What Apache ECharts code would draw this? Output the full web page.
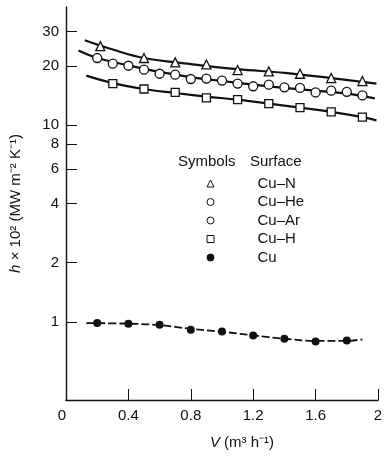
<!DOCTYPE html>
<html><head><meta charset="utf-8">
<script src="https://cdn.jsdelivr.net/npm/echarts@6/dist/echarts.min.js"></script>
<style>html,body{margin:0;padding:0;background:#fff}#c{width:385px;height:458px}</style>
</head><body><div id="c"></div>
<script>
// ---- data ----
const seriesNames = ['Cu–N', 'Cu–He', 'Cu–Ar', 'Cu–H', 'Cu'];
const xCuN  = [0.22, 0.5, 0.7, 0.9, 1.1, 1.3, 1.5, 1.7, 1.9];
const hCuN  = [25.3, 22.0, 20.9, 20.4, 19.1, 18.8, 18.3, 17.4, 16.8];
const xCuHe = [0.2, 0.4, 0.6, 0.8, 1.0, 1.2, 1.4, 1.6, 1.8];
const hCuHe = [22.0, 20.1, 18.3, 17.2, 16.9, 15.8, 15.6, 14.7, 14.8];
const xCuAr = [0.3, 0.5, 0.7, 0.9, 1.1, 1.3, 1.5, 1.7, 1.9];
const hCuAr = [20.6, 19.2, 18.1, 17.3, 16.3, 16.1, 15.5, 15.0, 14.2];
const xCuH  = [0.3, 0.5, 0.7, 0.9, 1.1, 1.3, 1.5, 1.7, 1.9];
const hCuH  = [16.3, 15.3, 14.7, 13.8, 13.5, 12.9, 12.3, 11.7, 11.0];
const xCu   = [0.2, 0.4, 0.6, 0.8, 1.0, 1.2, 1.4, 1.6, 1.8];
const hCu   = [0.985, 0.977, 0.965, 0.911, 0.893, 0.851, 0.819, 0.794, 0.803];
// fitted curves drawn through the points
const fitXN  = [0.12, 0.3, 0.5, 0.8, 1.1, 1.4, 1.7, 1.99];
const fitHN  = [27.1, 24.3, 22.0, 20.5, 19.3, 18.5, 17.4, 16.3];
const fitXHA = [0.08, 0.2, 0.4, 0.6, 0.8, 1.0, 1.2, 1.4, 1.6, 1.8, 1.98];
const fitHHA = [24.0, 22.0, 20.2, 18.7, 17.6, 16.8, 16.1, 15.5, 15.0, 14.5, 13.7];
const fitXH  = [0.13, 0.3, 0.5, 0.7, 0.9, 1.1, 1.3, 1.5, 1.7, 1.9, 1.99];
const fitHH  = [17.9, 16.4, 15.3, 14.6, 14.0, 13.5, 12.9, 12.3, 11.7, 11.0, 10.6];
const fitXCu = [0.13, 0.4, 0.6, 0.8, 1.0, 1.2, 1.4, 1.6, 1.8, 1.9];
const fitHCu = [0.985, 0.978, 0.962, 0.92, 0.89, 0.853, 0.82, 0.80, 0.80, 0.815];
// axes
const xTicks = [0, 0.4, 0.8, 1.2, 1.6, 2];
const yTicks = [1, 2, 4, 6, 8, 10, 20, 30];
const yMin = 0.4, yMax = 40;

const FONT = 'Liberation Sans, Arial, sans-serif';
const TXT = '#111';
const lg = v => Math.log10(v);
const pts = (xs, hs) => xs.map((x, i) => [x, lg(hs[i])]);

function markers(name, xs, hs, symbol, size, filled) {
  return {
    name, type: 'scatter', data: pts(xs, hs), symbol, symbolSize: size, z: 5,
    itemStyle: { color: filled ? '#111' : '#fff', borderColor: '#111', borderWidth: filled ? 0 : 1.3, opacity: 1 }
  };
}
function curve(xs, hs, dashed) {
  return {
    type: 'line', data: pts(xs, hs), showSymbol: false, smooth: 0.4, z: 2, silent: true,
    lineStyle: { color: '#111', width: dashed ? 1.8 : 2.2, type: dashed ? [8, 3] : 'solid' }
  };
}

const chart = echarts.init(document.getElementById('c'), null, { renderer: 'canvas' });
chart.setOption({
  animation: false,
  backgroundColor: '#fff',
  grid: { left: 66, right: 7, top: 7, bottom: 58, outerBoundsMode: 'none' },
  xAxis: {
    type: 'value', min: 0, max: 2, interval: 0.4,
    splitLine: { show: false },
    axisLine: { onZero: false, lineStyle: { color: '#111', width: 1.4 } },
    axisTick: { inside: true, length: 11, lineStyle: { color: '#111', width: 1 } },
    axisLabel: { color: TXT, fontSize: 15, fontFamily: FONT, margin: 8, alignMinLabel: 'right' },
    name: '{i|V} (m³ h⁻¹)', nameLocation: 'middle', nameGap: 35,
    nameTextStyle: { color: TXT, fontSize: 15, fontFamily: FONT, padding: [0, 0, 0, 40],
      rich: { i: { fontStyle: 'italic', fontSize: 15, fontFamily: FONT, color: TXT } } }
  },
  yAxis: {
    type: 'value', min: lg(yMin), max: lg(yMax),
    splitLine: { show: false },
    axisLine: { onZero: false, lineStyle: { color: '#111', width: 1.4 } },
    axisTick: { inside: true, length: 11, customValues: yTicks.map(lg), lineStyle: { color: '#111', width: 1 } },
    axisLabel: { color: TXT, fontSize: 15, fontFamily: FONT, margin: 7,
      customValues: yTicks.map(lg), formatter: v => String(Math.round(Math.pow(10, v))) },
    name: '{i|h} × 10² (MW m⁻² K⁻¹)', nameLocation: 'middle', nameGap: 43, nameRotate: 90,
    nameTextStyle: { color: TXT, fontSize: 15, fontFamily: FONT,
      rich: { i: { fontStyle: 'italic', fontSize: 15, fontFamily: FONT, color: TXT } } }
  },
  legend: {
    data: seriesNames, orient: 'vertical', left: 201.5, top: 171,
    itemWidth: 7, itemHeight: 7, itemGap: 3.5, selectedMode: false,
    textStyle: { color: TXT, fontSize: 15, fontFamily: FONT, padding: [0, 0, 0, 38.5] },
    itemStyle: { borderWidth: 1 }
  },
  graphic: [
    { type: 'text', left: 178, top: 154, style: { text: 'Symbols', fill: TXT, font: '15px ' + FONT } },
    { type: 'text', left: 250, top: 154, style: { text: 'Surface', fill: TXT, font: '15px ' + FONT } }
  ],
  series: [
    curve(fitXN, fitHN, false),
    curve(fitXHA, fitHHA, false),
    curve(fitXH, fitHH, false),
    curve(fitXCu, fitHCu, true),
    markers(seriesNames[0], xCuN, hCuN, 'triangle', 9, false),
    markers(seriesNames[1], xCuHe, hCuHe, 'circle', 9, false),
    markers(seriesNames[2], xCuAr, hCuAr, 'circle', 9, false),
    markers(seriesNames[3], xCuH, hCuH, 'rect', 8, false),
    markers(seriesNames[4], xCu, hCu, 'circle', 8, true)
  ]
});
</script></body></html>
